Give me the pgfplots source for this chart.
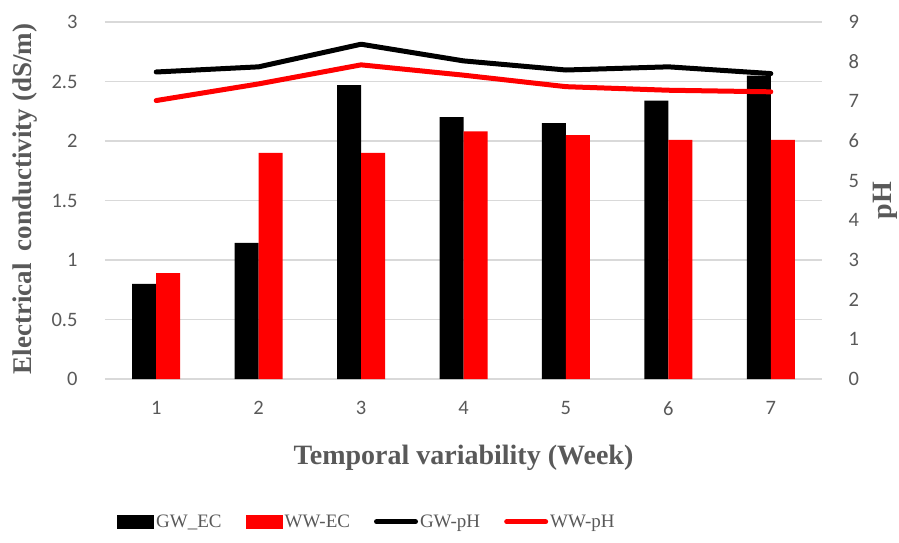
\documentclass[border=0pt]{standalone}
\usepackage{pgfplots}
\pgfplotsset{compat=1.18}
\usepackage{fontspec}
\setmainfont{Liberation Serif}
\newfontfamily\tickfont{Carlito}
\definecolor{txt}{HTML}{595959}
\definecolor{gridc}{HTML}{D9D9D9}
\definecolor{myred}{HTML}{FF0000}
\begin{document}
\begin{tikzpicture}
\useasboundingbox (0,0) rectangle (899pt,542pt);
\begin{axis}[
  at={(105pt,163pt)}, anchor=south west,
  scale only axis, width=717pt, height=357pt,
  xmin=0.5, xmax=7.5, ymin=0, ymax=3,
  ytick={0,0.5,1,1.5,2,2.5,3}, xtick={1,2,3,4,5,6,7},
  /pgf/number format/assume math mode=true,
  axis line style={draw=none}, major tick length=0pt,
  ymajorgrids, grid style={gridc, line width=1.3pt},
  ybar=0pt, bar width=24pt,
  ticklabel style={font=\tickfont\fontsize{20.5}{24}\selectfont, text=txt},
  yticklabel style={xshift=-24pt},
  xticklabel style={yshift=-19pt},
  xlabel={Temporal variability (Week)},
  xlabel style={at={(axis description cs:0.5,-0.222)}, anchor=center, font=\bfseries\fontsize{28}{32}\selectfont, text=txt},
  ylabel={Electrical\hspace{0.45em}conductivity (dS/m)},
  ylabel style={at={(axis description cs:-0.1115,0.504)}, anchor=center, font=\bfseries\fontsize{27}{31}\selectfont, text=txt},
  legend columns=4,
  legend style={draw=none, fill=none, inner sep=0pt, at={(axis description cs:0.0167,-0.40)}, anchor=west,
    font=\fontsize{19}{22}\selectfont, text=txt,
    /tikz/every even column/.append style={column sep=22pt}},
  legend cell align=left,
]
\addplot[fill=black, draw=none, legend image code/.code={\fill[black] (0pt,-7pt) rectangle (37pt,7pt);}] coordinates {(1,0.80) (2,1.145) (3,2.47) (4,2.20) (5,2.15) (6,2.34) (7,2.55)};
\addlegendentry{GW\_EC}
\addplot[fill=myred, draw=none, legend image code/.code={\fill[myred] (0pt,-7pt) rectangle (37pt,7pt);}] coordinates {(1,0.89) (2,1.90) (3,1.90) (4,2.08) (5,2.05) (6,2.01) (7,2.01)};
\addlegendentry{WW-EC}
\addlegendimage{legend image code/.code={\draw[black, line width=5pt, line cap=round] (0pt,0pt) -- (39pt,0pt);}}
\addlegendentry{GW-pH}
\addlegendimage{legend image code/.code={\draw[myred, line width=5pt, line cap=round] (0pt,0pt) -- (39pt,0pt);}}
\addlegendentry{WW-pH}
\end{axis}
\begin{axis}[
  at={(105pt,163pt)}, anchor=south west,
  scale only axis, width=717pt, height=357pt,
  xmin=0.5, xmax=7.5, ymin=0, ymax=9,
  ytick={0,1,2,3,4,5,6,7,8,9},
  /pgf/number format/assume math mode=true,
  axis x line=none, axis y line*=right,
  axis line style={draw=none}, major tick length=0pt,
  ticklabel style={font=\tickfont\fontsize{20.5}{24}\selectfont, text=txt},
  yticklabel style={xshift=23pt},
  ylabel={pH},
  ylabel style={at={(axis description cs:1.088,0.5)}, anchor=center, rotate=0, font=\bfseries\fontsize{28}{32}\selectfont, text=txt},
]
\addplot[black, line width=5pt, line join=round, line cap=round] coordinates {(1,7.74) (2,7.87) (3,8.44) (4,8.02) (5,7.79) (6,7.87) (7,7.70)};
\addplot[myred, line width=5pt, line join=round, line cap=round] coordinates {(1,7.02) (2,7.44) (3,7.92) (4,7.66) (5,7.37) (6,7.28) (7,7.24)};
\end{axis}
\end{tikzpicture}
\end{document}
